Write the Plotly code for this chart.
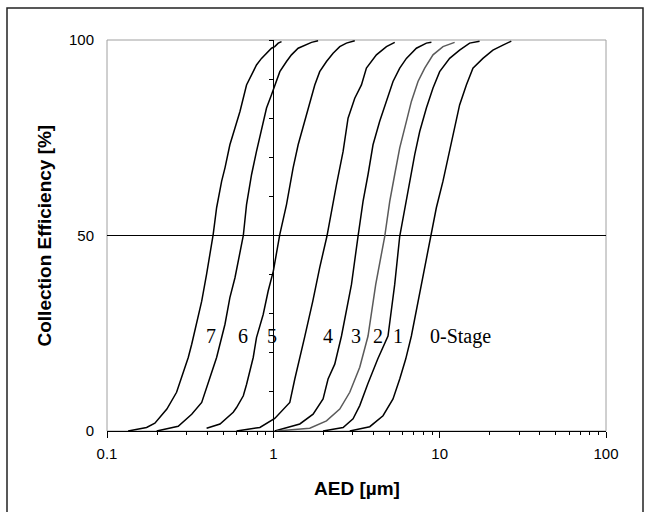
import math
import plotly.graph_objects as go

# Cumulative collection efficiency [%] versus aerodynamic diameter AED [µm]
# for each impactor stage.

aed_s7 = [0.134, 0.173, 0.194, 0.229, 0.262, 0.281, 0.308, 0.323, 0.348, 0.371, 0.397, 0.416,
          0.435, 0.456, 0.489, 0.512, 0.548, 0.588, 0.630, 0.690, 0.740, 0.792, 0.849, 0.910,
          0.975, 1.02, 1.07, 1.12]
ce_s7 = [0, 0.9, 2.0, 5.6, 9.9, 13.7, 18.8, 22.2, 28.1, 33.2, 40.1, 45.2,
         50.3, 57.1, 63.9, 67.3, 73.2, 77.5, 81.7, 88.5, 91.1, 93.6, 95.3, 96.6,
         97.9, 98.3, 99.2, 99.6]

aed_s6 = [0.199, 0.268, 0.323, 0.371, 0.416, 0.456, 0.512, 0.548, 0.588, 0.630, 0.660, 0.690,
          0.740, 0.792, 0.849, 0.910, 0.975, 1.02, 1.094, 1.20, 1.285, 1.41, 1.546, 1.696, 1.858]
ce_s6 = [0, 1.2, 4.3, 7.3, 13.7, 18.8, 27.3, 34.1, 39.2, 46.0, 50.0, 57.9,
         65.6, 71.5, 77.5, 82.6, 86.0, 88.5, 91.9, 94.5, 96.2, 97.9, 98.7, 99.4, 99.8]

aed_s5 = [0.397, 0.478, 0.574, 0.601, 0.660, 0.690, 0.757, 0.792, 0.869, 0.931, 1.0, 1.045,
          1.094, 1.20, 1.315, 1.41, 1.546, 1.656, 1.775, 1.90, 2.087, 2.287, 2.508, 2.75, 3.087]
ce_s5 = [0.7, 1.8, 4.8, 6.0, 9.0, 11.9, 18.8, 23.9, 29.8, 35.8, 40.9, 46.0,
         50.3, 57.9, 67.3, 73.2, 79.2, 84.3, 88.5, 91.9, 94.5, 96.6, 98.3, 99.2, 99.8]

aed_s4 = [0.601, 0.830, 1.02, 1.256, 1.346, 1.443, 1.546, 1.727, 1.90, 2.10, 2.236, 2.397,
          2.627, 2.75, 2.813, 3.087, 3.386, 3.628, 4.166, 4.786, 5.367]
ce_s4 = [0, 0.9, 3.2, 7.3, 13.3, 18.4, 24.2, 33.2, 41.8, 49.8, 56.2, 63.0,
         71.5, 77.5, 80.0, 85.1, 88.5, 92.8, 96.2, 98.3, 99.4]

aed_s3 = [1.02, 1.443, 1.734, 1.991, 2.133, 2.34, 2.569, 2.95, 3.23, 3.462, 3.71, 3.975,
          4.36, 4.786, 5.243, 5.753, 6.31, 7.245, 8.32, 8.92]
ce_s3 = [0, 1.8, 4.3, 8.2, 13.3, 17.1, 24.3, 37.5, 49.8, 58.7, 65.6, 73.2,
         79.2, 84.3, 89.4, 92.8, 95.3, 97.9, 99.2, 99.4]

aed_s2 = [1.045, 1.656, 2.087, 2.508, 2.881, 3.308, 3.71, 4.127, 4.675, 5.01, 5.367, 5.753,
          6.31, 6.76, 7.41, 8.13, 9.12, 10.47, 12.3]
ce_s2 = [0, 0.7, 2.6, 5.6, 9.9, 16.3, 24.3, 37.5, 49.8, 58.7, 65.6, 72.4,
         79.2, 84.3, 89.4, 92.8, 96.2, 98.3, 99.4]

aed_s1 = [1.991, 2.627, 3.015, 3.308, 3.695, 4.243, 4.89, 5.367, 5.753, 6.166, 6.607, 7.08,
          7.586, 8.32, 9.12, 10.0, 11.48, 13.18, 15.14, 17.38]
ce_s1 = [0, 0.9, 3.1, 6.5, 12.0, 18.4, 24.3, 37.5, 49.8, 57.1, 63.9, 70.7,
         76.6, 82.6, 87.7, 91.9, 95.3, 97.4, 99.2, 99.7]

aed_s0 = [2.881, 3.8, 4.565, 5.243, 5.753, 6.25, 6.76, 7.77, 8.92, 9.55, 10.47, 11.22,
          11.76, 12.3, 13.18, 14.47, 15.85, 18.2, 20.9, 24.0, 26.96]
ce_s0 = [0, 1.1, 3.9, 8.2, 13.3, 18.4, 24.3, 37.5, 49.8, 57.1, 63.9, 69.8,
         74.1, 78.3, 83.4, 88.5, 92.8, 95.3, 97.4, 98.7, 99.7]

stages = ["7", "6", "5", "4", "3", "2", "1", "0-Stage"]
aed = [aed_s7, aed_s6, aed_s5, aed_s4, aed_s3, aed_s2, aed_s1, aed_s0]
ce = [ce_s7, ce_s6, ce_s5, ce_s4, ce_s3, ce_s2, ce_s1, ce_s0]

# text placement of each stage label (µm, %)
label_pos = {"7": (0.422, 24.2), "6": (0.656, 24.2), "5": (0.98, 24.2), "4": (2.12, 24.2),
             "3": (3.13, 24.2), "2": (4.25, 24.2), "1": (5.6, 24.2), "0-Stage": (13.3, 24.2)}

SANS = "Arial, 'Liberation Sans', sans-serif"
SERIF = "'Times New Roman', 'Liberation Serif', serif"

W, H = 651, 512
ML, MR, MT, MB = 107, 45, 40, 81
PW, PH = W - ML - MR, H - MT - MB


def px_to_paper_x(px):
    return (px - ML) / PW


def px_to_paper_y(py):
    return (H - MB - py) / PH


fig = go.Figure()
for name, xs, ys in zip(stages, aed, ce):
    fig.add_trace(go.Scatter(
        x=xs, y=ys, mode="lines", name=name, showlegend=False,
        # stage 7 is plotted against the secondary y axis drawn at 1 µm (same 0-100 scale)
        yaxis="y2" if name == "7" else "y",
        line=dict(color="#5a5a5a" if name == "2" else "black", width=1.5),
    ))

for name, (lx, ly) in label_pos.items():
    fig.add_annotation(x=math.log10(lx), y=ly, xref="x", yref="y",
                       text=name, showarrow=False,
                       font=dict(family=SERIF, size=20, color="black"),
                       xanchor="center", yanchor="middle")

# plot-area frame (grey) and reference line at 50 %
fig.add_shape(type="rect", xref="paper", yref="paper", x0=0, x1=1, y0=0, y1=1,
              line=dict(color="#a0a0a0", width=1), layer="below")
fig.add_shape(type="line", xref="paper", yref="y", x0=0, x1=1, y0=50, y1=50,
              line=dict(color="black", width=1), layer="below")
# outer chart border
fig.add_shape(type="rect", xref="paper", yref="paper",
              x0=px_to_paper_x(7), x1=px_to_paper_x(643),
              y0=px_to_paper_y(530), y1=px_to_paper_y(8),
              line=dict(color="#222222", width=1.5), layer="below")

fig.add_annotation(text="<b>AED [µm]</b>", xref="paper", yref="paper",
                   x=0.5, y=px_to_paper_y(488),
                   showarrow=False, font=dict(family=SANS, size=19, color="black"),
                   xanchor="center", yanchor="middle")
fig.add_annotation(text="<b>Collection Efficiency [%]</b>", xref="paper", yref="paper",
                   x=px_to_paper_x(44), y=0.5, textangle=-90, showarrow=False,
                   font=dict(family=SANS, size=19, color="black"),
                   xanchor="center", yanchor="middle")

fig.update_layout(
    width=W, height=H, autosize=False,
    margin=dict(l=ML, r=MR, t=MT, b=MB),
    paper_bgcolor="white", plot_bgcolor="white",
    xaxis=dict(type="log", range=[-1, 2], dtick=1, tick0=0,
               showline=True, linecolor="black", linewidth=1,
               ticks="outside", ticklen=6, tickcolor="black", tickwidth=1,
               minor=dict(dtick="D1", ticks="outside", ticklen=3, tickcolor="black", showgrid=False),
               showgrid=False, zeroline=False, ticklabelstandoff=3,
               tickfont=dict(family=SANS, size=15, color="black")),
    yaxis=dict(range=[0, 100], tickvals=[0, 50, 100], showgrid=False, zeroline=False,
               showline=False, ticks="", ticklabelstandoff=12,
               tickfont=dict(family=SANS, size=15, color="black")),
    yaxis2=dict(overlaying="y", anchor="free", position=1 / 3, range=[0, 100],
                showline=True, linecolor="black", linewidth=1,
                ticks="outside", dtick=10, ticklen=4, tickcolor="black",
                showticklabels=False, showgrid=False, zeroline=False),
)

fig.write_html("out.html")
